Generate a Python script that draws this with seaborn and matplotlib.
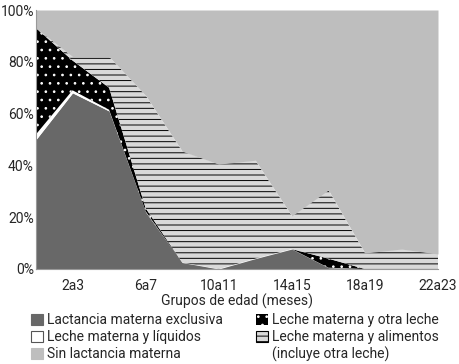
import matplotlib.pyplot as plt
import seaborn as sns
from matplotlib.patches import Patch

# age groups (months), every two months
groups = ['0a1', '2a3', '4a5', '6a7', '8a9', '10a11',
          '12a13', '14a15', '16a17', '18a19', '20a21', '22a23']
tick_labels = ['2a3', '6a7', '10a11', '14a15', '18a19', '22a23']

# percentages
exclusiva = [50, 68, 61, 22, 2.5, 0, 4, 7.7, 0.5, 0, 0, 0]
liquidos = [2, 1, 0.5, 0.3, 0, 0, 0, 0, 0, 0, 0, 0]
otra_leche = [41, 11.5, 8.5, 1.2, 0, 0, 0, 0, 3.5, 0, 0, 0]
alimentos = [0, 1.5, 12, 43.5, 43, 40.5, 38, 12.8, 26.5, 6.2, 7.7, 5.8]
sin_lactancia = [7, 18, 18, 33, 54.5, 59.5, 58, 79.5, 69.5, 93.8, 92.3, 94.2]

labels = ['Lactancia materna exclusiva', 'Leche materna y líquidos',
          'Leche materna y otra leche', 'Leche materna y alimentos',
          'Sin lactancia materna']
faces = ['#686868', '#ffffff', '#000000', '#d9d9d9', '#bebebe']
hatch_col = ['#686868', '#ffffff', '#ffffff', '#000000', '#bebebe']
hatches = [None, None, '..', '---', None]

sns.set_style('white')
plt.rcParams['font.family'] = ['Roboto', 'DejaVu Sans']
plt.rcParams['hatch.linewidth'] = 0.7

fig = plt.figure(figsize=(4.6, 3.64), dpi=100)
ax = fig.add_axes([36 / 460, 1 - 269 / 364, 402 / 460, 259 / 364])

x = list(range(len(groups)))
polys = ax.stackplot(x, exclusiva, liquidos, otra_leche, alimentos, sin_lactancia,
                     colors=faces, linewidth=0)
for p, fc, hc, h in zip(polys, faces, hatch_col, hatches):
    p.set_facecolor(fc)
    p.set_edgecolor(hc)
    p.set_linewidth(0)
    if h:
        p.set_hatch(h)

ax.set_xlim(0, 11)
ax.set_ylim(0, 100)
ax.set_yticks(range(0, 101, 20))
ax.set_yticklabels([f'{v}%' for v in range(0, 101, 20)], fontsize=10)
ax.set_xticks([x[groups.index(t)] for t in tick_labels])
ax.set_xticklabels(tick_labels, fontsize=10)
ax.tick_params(axis='x', length=4, width=0.8, color='#999999', pad=3, direction='out')
ax.tick_params(axis='y', length=0, pad=1.5)
for t in ax.get_yticklabels():
    t.set_verticalalignment('center_baseline')
ax.set_xlabel('Grupos de edad (meses)', fontsize=10, labelpad=1)
for side in ['top', 'right']:
    ax.spines[side].set_visible(False)
for side in ['left', 'bottom']:
    ax.spines[side].set_color('#999999')
    ax.spines[side].set_linewidth(0.8)

# legend: two columns, second column label wraps onto a third row
handles = [
    Patch(facecolor=faces[0], edgecolor=faces[0], linewidth=0.8),
    Patch(facecolor='white', edgecolor='#555555', linewidth=0.8),
    Patch(facecolor=faces[4], edgecolor=faces[4], linewidth=0.8),
    Patch(facecolor='black', edgecolor='white', hatch='..', linewidth=0),
    Patch(facecolor=faces[3], edgecolor='black', hatch='---', linewidth=0.8),
    Patch(facecolor='none', edgecolor='none'),
]
leg_labels = [labels[0], labels[1], labels[4], labels[2], labels[3], '(incluye otra leche)']
fig.legend(handles, leg_labels, ncol=2, loc='upper left',
           bbox_to_anchor=(31 / 460, 1 - 313 / 364), frameon=False, fontsize=10,
           handlelength=0.85, handleheight=0.85, handletextpad=0.3,
           labelspacing=0.22, columnspacing=2.4, borderpad=0, borderaxespad=0)

fig.savefig('out.png', dpi=100)
